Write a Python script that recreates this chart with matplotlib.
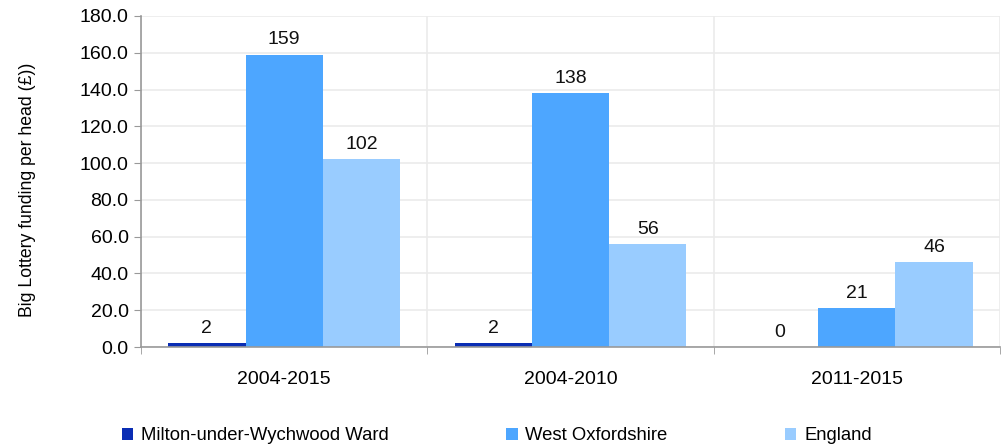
import matplotlib
matplotlib.use("Agg")
import matplotlib.pyplot as plt
import numpy as np
from matplotlib.patches import Patch

plt.rcParams['font.family'] = ['Liberation Sans', 'DejaVu Sans']

categories = ["2004-2015", "2004-2010", "2011-2015"]
series_names = ["Milton-under-Wychwood Ward", "West Oxfordshire", "England"]
milton = [2.3, 2.3, 0.0]
west_oxon = [159, 138, 21]
england = [102, 56, 46]
colors = ["#0A2DB4", "#4DA6FF", "#99CCFF"]
yticks = [0, 20, 40, 60, 80, 100, 120, 140, 160, 180]

FS = 14

fig = plt.figure(figsize=(10.05, 4.46), dpi=100)
ax = fig.add_axes([141/1005, 1-347/446, (1000-141)/1005, (347-16)/446])

x = np.arange(len(categories))
w = 0.27
for i, (vals, c) in enumerate(zip([milton, west_oxon, england], colors)):
    pos = x + (i - 1) * w
    ax.bar(pos, vals, width=w, color=c, zorder=3)
    for p, v in zip(pos, vals):
        ax.annotate(f"{v:.0f}", (p, v), xytext=(0, 4.5), textcoords="offset points",
                    ha="center", va="bottom", fontsize=FS, color="#111111")

ax.set_xlim(-0.5, len(categories) - 0.5)
ax.set_ylim(0, 180)
ax.set_yticks(yticks)
ax.set_yticklabels([f"{t:.1f}" for t in yticks], fontsize=FS)
ax.set_xticks(x)
ax.set_xticklabels(categories, fontsize=FS)
ax.tick_params(axis='x', length=0, pad=17)
ax.set_xticks(np.arange(len(categories) + 1) - 0.5, minor=True)
ax.tick_params(axis='x', which='minor', length=5, direction='out', color="#999999")
ax.tick_params(axis='y', length=5, direction='out', color="#999999", pad=4)
ax.grid(axis='y', color="#EBEBEB", linewidth=1.2, zorder=0)
ax.grid(axis='x', which='minor', color="#EBEBEB", linewidth=1.2, zorder=0)
for s in ['top', 'right']:
    ax.spines[s].set_visible(False)
for s in ['left', 'bottom']:
    ax.spines[s].set_color("#999999")
    ax.spines[s].set_linewidth(1.2)
    ax.spines[s].set_zorder(4)

ax.set_ylabel("Big Lottery funding per head (£))", fontsize=12.7)
ax.yaxis.set_label_coords((36 - 141) / (1000 - 141), (347 - 190) / (347 - 16))

handles = [Patch(facecolor=c, edgecolor='none') for c in colors]
fig.legend(handles, series_names, loc='center left', bbox_to_anchor=(122/1005, 1-436/446),
           ncol=3, frameon=False, fontsize=13.3, handlelength=0.6, handleheight=0.6,
           handletextpad=0.43, columnspacing=6.37, borderpad=0, borderaxespad=0)

fig.savefig("out.png", dpi=100)
